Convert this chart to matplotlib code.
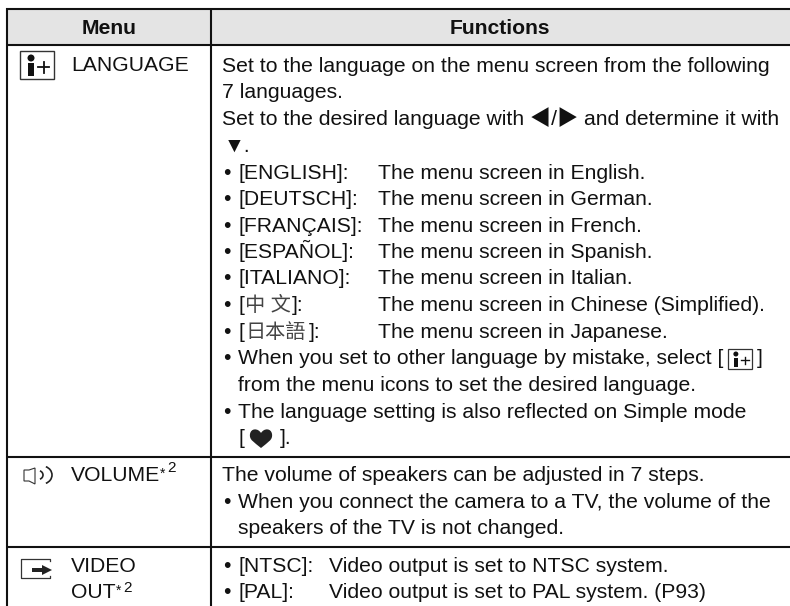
import matplotlib
matplotlib.use('Agg')
import matplotlib.pyplot as plt
from matplotlib.patches import Rectangle, Polygon, Circle, Arc, PathPatch
from matplotlib.path import Path

plt.rcParams['font.family'] = ['Liberation Sans', 'Noto Sans CJK SC', 'DejaVu Sans']

headers = ['Menu', 'Functions']
menu_items = ['LANGUAGE', 'VOLUME', 'VIDEO', 'OUT']
plain_lines = [
    'Set to the language on the menu screen from the following',
    '7 languages.',
    'Set to the desired language with \u25c0/\u25b6 and determine it with',
]
lang_tags = ['[ENGLISH]:', '[DEUTSCH]:', '[FRAN\u00c7AIS]:', '[ESPA\u00d1OL]:', '[ITALIANO]:']
cjk_tags = ['\u4e2d \u6587', '\u65e5\u672c\u8a9e']
lang_text = ['The menu screen in English.', 'The menu screen in German.',
             'The menu screen in French.', 'The menu screen in Spanish.',
             'The menu screen in Italian.', 'The menu screen in Chinese (Simplified).',
             'The menu screen in Japanese.']
note_lines = [
    ('\u2022', 'When you set to other language by mistake, select ['),
    ('', 'from the menu icons to set the desired language.'),
    ('\u2022', 'The language setting is also reflected on Simple mode'),
    ('', '['),
]
volume_lines = [
    ('', 'The volume of speakers can be adjusted in 7 steps.'),
    ('\u2022', 'When you connect the camera to a TV, the volume of the'),
    ('', 'speakers of the TV is not changed.'),
]
video_tags = ['[NTSC]:', '[PAL]:']
video_text = ['Video output is set to NTSC system.', 'Video output is set to PAL system. (P93)']

fig = plt.figure(figsize=(7.9, 6.06), dpi=100)
ax = fig.add_axes([0, 0, 1, 1])
ax.set_xlim(0, 790)
ax.set_ylim(606, 0)
ax.axis('off')

FS = 15.2
INK = '#111111'

def txt(x, y, s, **kw):
    kw.setdefault('fontsize', FS)
    kw.setdefault('color', INK)
    kw.setdefault('va', 'baseline')
    ax.text(x, y, s, **kw)

# grid
ax.add_patch(Rectangle((7, 9), 783, 36, fc='#e4e4e4', ec='none'))
lw = 1.5
for y in (9, 45, 456.5, 546.5):
    ax.plot([6, 790], [y, y], color='#111111', lw=lw, solid_capstyle='butt')
ax.plot([7, 7], [8, 606], color='#111111', lw=lw, solid_capstyle='butt')
ax.plot([211, 211], [8, 606], color='#111111', lw=lw, solid_capstyle='butt')

txt(109, 34, headers[0], ha='center', fontweight='bold')
txt(500, 34, headers[1], ha='center', fontweight='bold')

# menu column
txt(71, 71, menu_items[0])
txt(71, 481, menu_items[1])
txt(71, 572, menu_items[2])
txt(71, 598, menu_items[3])
txt(160, 478, '*', fontsize=10)
txt(167, 472.5, '2', fontsize=11)
txt(116, 595, '*', fontsize=10)
txt(123, 591.5, '2', fontsize=11)

# functions column
X0, X1, X2 = 222, 238, 378
ys = [72, 98, 125]
for y, s in zip(ys, plain_lines):
    txt(X0, y, s)
txt(224, 152, '\u25bc.')
ys = [179, 205, 231.5, 258, 284.5, 311, 338]
for y, b in zip(ys, lang_text):
    txt(X0 + 1, y, '\u2022')
    txt(X2, y, b)
for y, a in zip(ys, lang_tags):
    txt(X1, y, a)
for y, a, x_end in zip(ys[5:], cjk_tags, (292, 309)):
    txt(X1, y, '[')
    txt(245, y, a, fontsize=14.5, color='#444444')
    txt(x_end, y, ']:')
ys = [364, 391, 418, 444]
for y, (b, s) in zip(ys, note_lines):
    if b:
        txt(X0 + 1, y, b)
    txt(X1, y, s)
ys = [481, 508, 534]
for y, (b, s) in zip(ys, volume_lines):
    if b:
        txt(X0 + 1, y, b)
    txt(X1 if (b or y == 534) else X0, y, s)
for y, a, b in zip((572, 598), video_tags, video_text):
    txt(X0 + 1, y, '\u2022')
    txt(X1, y, a)
    txt(329, y, b)

# icons
def info_icon(x, y, w, h, lwid):
    ax.add_patch(Rectangle((x, y), w, h, fc='white', ec='#333333', lw=lwid))
    s = h / 28
    ax.add_patch(Circle((x + 11 * s, y + 7 * s), 3.5 * s, fc='#111111', ec='none'))
    ax.add_patch(Rectangle((x + 8 * s, y + 12 * s), 6 * s, 13 * s, fc='#111111', ec='none'))
    ax.plot([x + 18 * s, x + 29 * s], [y + 16 * s] * 2, color='#111111', lw=1.1 * s + .2)
    ax.plot([x + 23.5 * s] * 2, [y + 10.5 * s, y + 21.5 * s], color='#111111', lw=1.1 * s + .2)

info_icon(20, 51, 34, 28, 1.0)
info_icon(728, 349, 24, 20, 0.9)
txt(757, 364, ']')

# heart
heart = Path([(261, 448), (254, 442), (249, 440), (250, 434), (251, 428), (258, 428), (261, 433),
              (264, 428), (271, 428), (272, 434), (273, 440), (268, 442), (261, 448)],
             [Path.MOVETO] + [Path.CURVE4] * 12)
ax.add_patch(PathPatch(heart, fc='#222222', ec='none'))
txt(280, 444, '].')

# speaker
ax.add_patch(Polygon([(24, 470), (29, 470), (35, 468), (35, 484), (29, 481), (24, 481)],
                     fc='white', ec='#333333', lw=0.8))
for cx, w, h in ((38, 10, 9), (42, 20, 18)):
    ax.add_patch(Arc((cx, 475), w, h, theta1=-65, theta2=65, color='#222222', lw=1.2))

# video out
ax.plot([50, 50, 21, 21, 50, 50], [561, 559, 559, 578, 578, 576], color='#333333', lw=0.9)
ax.add_patch(Polygon([(32, 568), (42, 568), (42, 565), (52, 570), (42, 575), (42, 572), (32, 572)],
                     fc='#222222', ec='none'))

fig.savefig('out.png', dpi=100)
